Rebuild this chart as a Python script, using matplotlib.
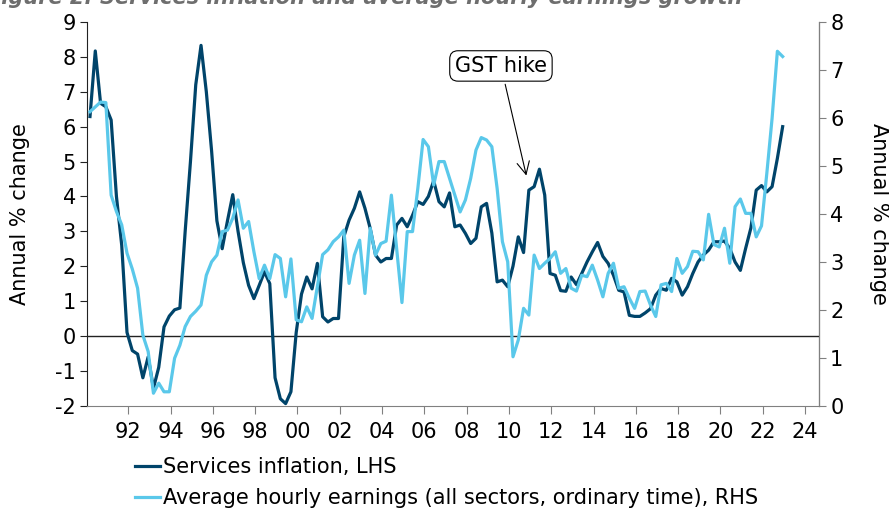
import matplotlib.pyplot as plt
import numpy as np

plt.rcParams['axes.unicode_minus'] = False

# quarterly series, first quarter early 1990
services = [6.29, 8.17, 6.67, 6.57, 6.19, 4.0, 2.6, 0.1, -0.42, -0.52,
            -1.2, -0.6, -1.5, -0.9, 0.26, 0.57, 0.75, 0.8, 3.0, 5.0,
            7.2, 8.33, 7.0, 5.3, 3.3, 2.5, 3.3, 4.05, 3.0, 2.1,
            1.45, 1.07, 1.45, 1.84, 1.5, -1.2, -1.8, -1.94, -1.6, 0.1,
            1.2, 1.69, 1.35, 2.08, 0.55, 0.4, 0.5, 0.5, 2.84, 3.32,
            3.66, 4.13, 3.66, 3.08, 2.32, 2.12, 2.22, 2.22, 3.18, 3.37,
            3.13, 3.46, 3.85, 3.77, 4.0, 4.45, 3.85, 3.7, 4.1, 3.13,
            3.18, 2.94, 2.65, 2.8, 3.7, 3.8, 2.95, 1.55, 1.6, 1.41,
            2.0, 2.84, 2.39, 4.18, 4.28, 4.78, 4.04, 1.79, 1.74, 1.3,
            1.28, 1.69, 1.47, 1.79, 2.12, 2.41, 2.68, 2.28, 2.08, 1.74,
            1.31, 1.26, 0.59, 0.56, 0.56, 0.66, 0.78, 1.17, 1.36, 1.31,
            1.65, 1.55, 1.17, 1.41, 1.79, 2.12, 2.32, 2.46, 2.7, 2.7,
            2.72, 2.51, 2.12, 1.88, 2.51, 3.1, 4.18, 4.31, 4.13, 4.28,
            5.09, 6.0]

earnings = [6.13, 6.23, 6.33, 6.32, 4.39, 4.05, 3.77, 3.18, 2.85, 2.45,
            1.47, 1.13, 0.26, 0.47, 0.29, 0.29, 0.99, 1.26, 1.65, 1.86,
            1.97, 2.1, 2.72, 3.0, 3.14, 3.63, 3.66, 3.91, 4.29, 3.7,
            3.84, 3.21, 2.65, 2.93, 2.65, 3.15, 3.07, 2.27, 3.06, 1.79,
            1.75, 2.06, 1.82, 2.48, 3.15, 3.25, 3.42, 3.52, 3.66, 2.55,
            3.14, 3.45, 2.34, 3.7, 3.14, 3.38, 3.43, 4.39, 3.28, 2.15,
            3.63, 3.63, 4.53, 5.55, 5.4, 4.6, 5.09, 5.09, 4.74, 4.39,
            4.04, 4.29, 4.74, 5.33, 5.59, 5.54, 5.4, 4.53, 3.42, 3.0,
            1.02, 1.37, 2.03, 1.89, 3.14, 2.86, 2.97, 3.07, 3.21, 2.76,
            2.86, 2.45, 2.39, 2.72, 2.69, 2.93, 2.62, 2.27, 2.76, 2.97,
            2.45, 2.48, 2.24, 2.03, 2.38, 2.39, 2.1, 1.86, 2.52, 2.55,
            2.38, 3.07, 2.76, 2.9, 3.22, 3.21, 3.04, 3.99, 3.36, 3.31,
            3.7, 2.97, 4.15, 4.31, 4.01, 4.01, 3.52, 3.75, 4.84, 5.99,
            7.39, 7.28]

tick_years = list(range(1992, 2025, 2))
tick_labels = ['%02d' % (y % 100) for y in tick_years]

dates = 1990.19 + 0.25 * np.arange(len(services))

dark = '#00446a'
light = '#5ac8ea'
fs = 15

fig = plt.figure(figsize=(8.89, 5.14), dpi=100)
ax = fig.add_axes([0.0979, 0.2107, 0.8234, 0.7465])
ax2 = ax.twinx()

ax.axhline(0, color='#222222', lw=1.0, zorder=1)
l1, = ax.plot(dates, services, color=dark, lw=2.3, zorder=3,
              label='Services inflation, LHS')
l2, = ax2.plot(dates, earnings, color=light, lw=2.3, zorder=3,
               label='Average hourly earnings (all sectors, ordinary time), RHS')

ax.set_xlim(1990.05, 2024.66)
ax.set_ylim(-2, 9)
ax2.set_ylim(0, 8)
ax.set_yticks(range(-2, 10))
ax2.set_yticks(range(0, 9))
ax.set_xticks(tick_years)
ax.set_xticklabels(tick_labels)

for a in (ax, ax2):
    a.spines['top'].set_visible(False)
ax.spines['left'].set_color('#222222')
ax.spines['bottom'].set_color('#808080')
ax2.spines['right'].set_color('#808080')
ax2.spines['left'].set_visible(False)
ax2.spines['bottom'].set_visible(False)

ax.tick_params(axis='y', labelsize=fs, length=5, color='#222222', pad=3)
ax.tick_params(axis='x', labelsize=fs, length=6, color='#808080', pad=6)
ax2.tick_params(axis='y', labelsize=fs, length=5, color='#808080', pad=3)

ax.set_ylabel('Annual % change', fontsize=fs, labelpad=18)
ax2.set_ylabel('Annual % change', fontsize=fs, rotation=270, labelpad=33)

ax.annotate('GST hike', xy=(2010.85, 4.52), xytext=(2009.62, 7.74),
            fontsize=fs, ha='center', va='center', zorder=5,
            bbox=dict(boxstyle='round,pad=0.25,rounding_size=0.4', fc='white', ec='black', lw=0.8),
            arrowprops=dict(arrowstyle='->,head_length=0.6,head_width=0.3', color='black', lw=0.8))

fig.text(-0.015, 0.992, 'Figure 2: Services inflation and average hourly earnings growth',
         fontsize=15, fontweight='bold', style='italic', color='#6e6e6e', va='baseline')

fig.legend(handles=[l1, l2], loc='upper left', bbox_to_anchor=(0.152, 0.11),
           frameon=False, fontsize=fs, handlelength=1.2, handletextpad=0.15,
           labelspacing=0.5, borderpad=0, borderaxespad=0)

fig.savefig('out.png', dpi=100)
